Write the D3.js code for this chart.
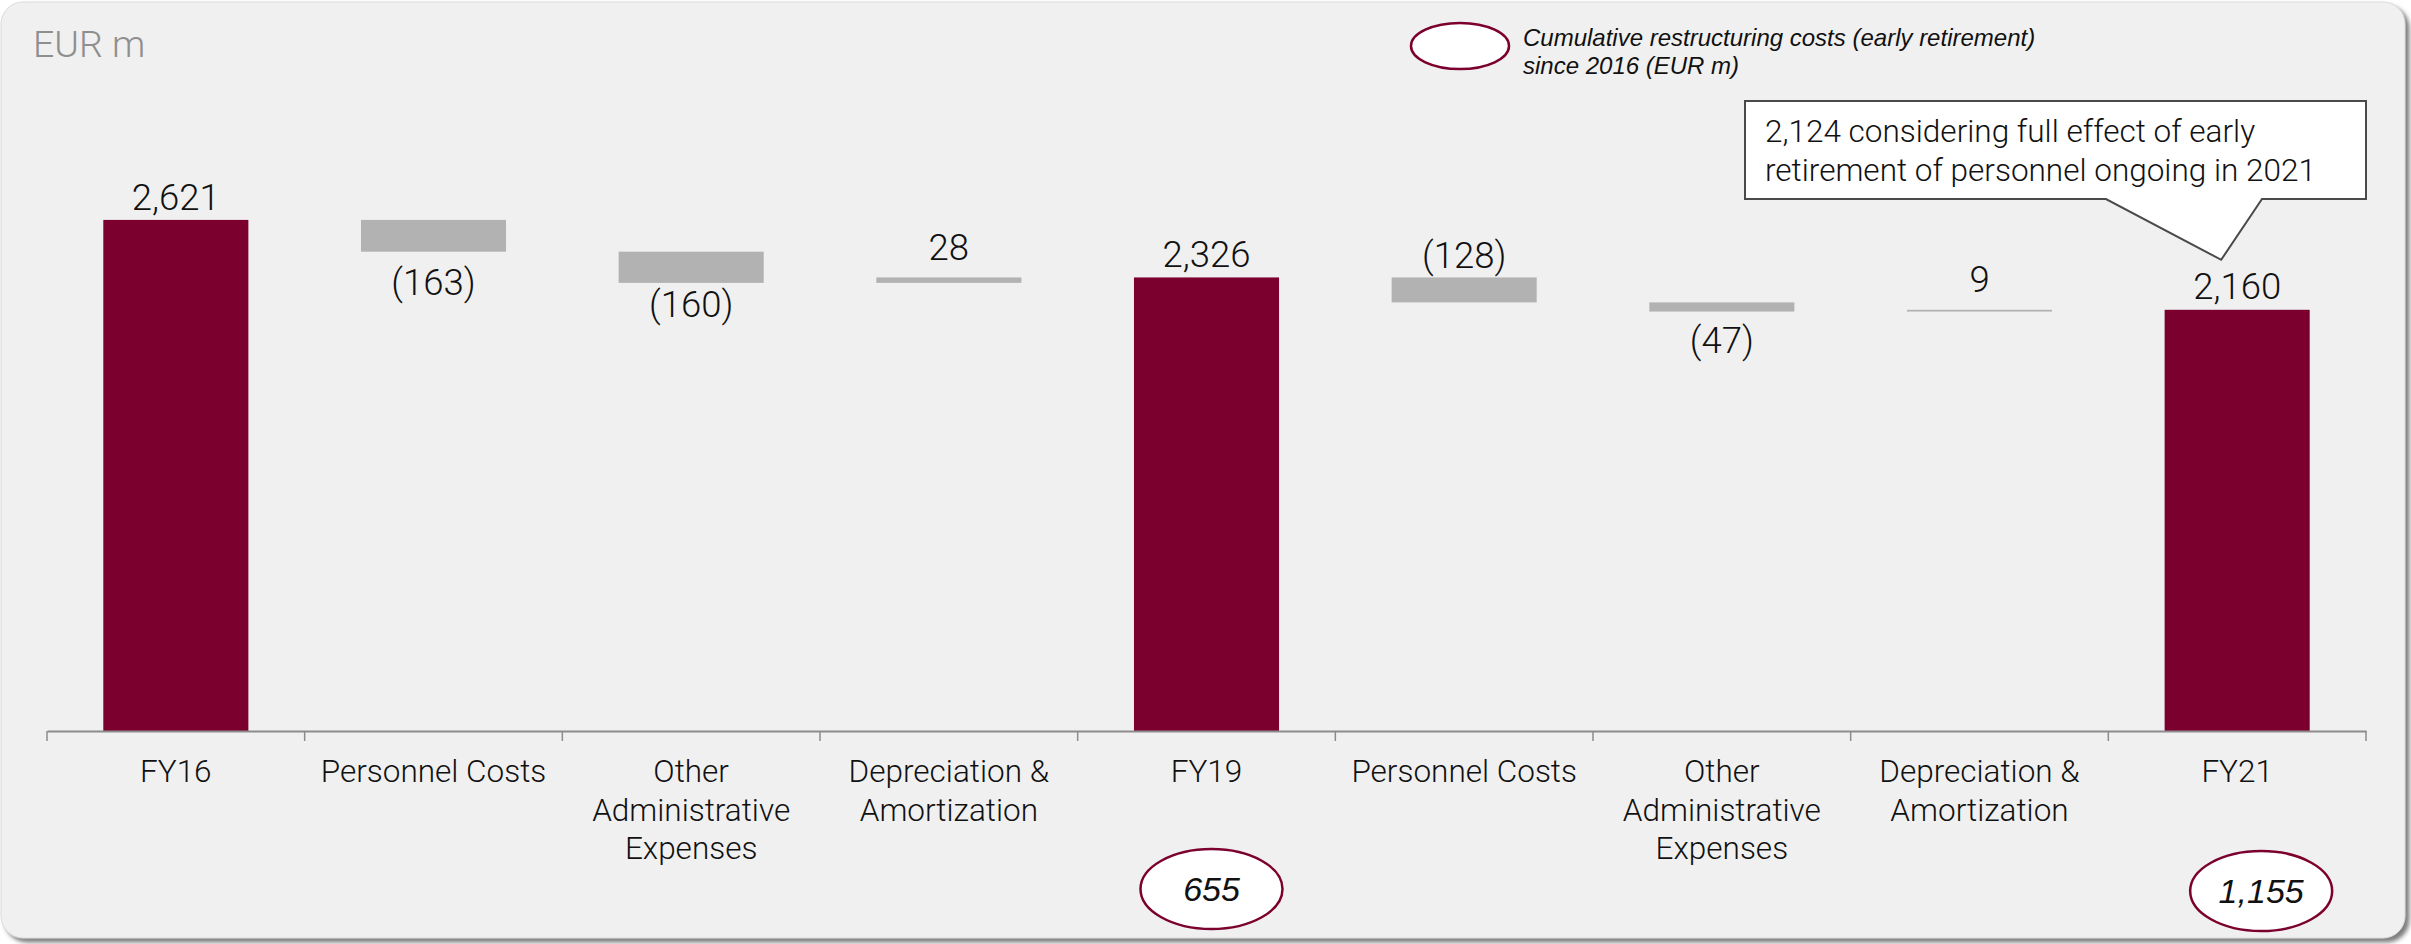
<!DOCTYPE html>
<html>
<head>
<meta charset="utf-8">
<script src="https://cdn.jsdelivr.net/npm/d3@7"></script>
<style>
  html, body { margin: 0; padding: 0; background: #ffffff; }
  svg { display: block; }
  .lbl { font-family: Roboto, "Open Sans", sans-serif; font-weight: 300; fill: #111; }
  .note { font-family: "Liberation Sans", Arial, sans-serif; font-style: italic; fill: #111; }
</style>
</head>
<body>
<div id="chart"></div>
<script>
// waterfall data
var categories = ["FY16", "Personnel Costs", "Other\nAdministrative\nExpenses", "Depreciation &\nAmortization",
  "FY19", "Personnel Costs", "Other\nAdministrative\nExpenses", "Depreciation &\nAmortization", "FY21"];
var values = [2621, -163, -160, 28, 2326, -128, -47, 9, 2160];
var isTotal = [true, false, false, false, true, false, false, false, true];

// cumulative restructuring costs (early retirement) shown in ovals
var restructuringCats = [4, 8];
var restructuringValues = [655, 1155];

var legendLines = ["Cumulative restructuring costs (early retirement)", "since 2016 (EUR m)"];
var calloutLines = ["2,124 considering full effect of early", "retirement of personnel ongoing in 2021"];

var width = 2411;
var height = 944;
var maroon = "#7b002e";
var grey = "#b2b2b2";

// which side of the bar each value label sits on, and its gap
var labelSide = ["above", "below", "below", "above", "above", "above", "below", "above", "above"];
var labelGap = [10, 43, 34, 17, 10, 9, 41, 18, 11];

var svg = d3.select("#chart").append("svg")
  .attr("width", width)
  .attr("height", height);

var defs = svg.append("defs");
var f = defs.append("filter").attr("id", "shadow")
  .attr("x", "-2%").attr("y", "-2%").attr("width", "104%").attr("height", "104%");
f.append("feDropShadow")
  .attr("dx", 4).attr("dy", 4).attr("stdDeviation", 2)
  .attr("flood-color", "#6f6f6f").attr("flood-opacity", 0.9);

// panel
svg.append("rect")
  .attr("x", 1).attr("y", 2)
  .attr("width", 2404).attr("height", 936)
  .attr("rx", 22).attr("ry", 22)
  .attr("fill", "#f0f0f0")
  .attr("stroke", "#dadada")
  .attr("filter", "url(#shadow)");

svg.append("text")
  .attr("class", "lbl")
  .attr("x", 33).attr("y", 57)
  .style("font-size", "37.5px")
  .style("fill", "#8e8e8e")
  .text("EUR m");

var x = d3.scaleBand()
  .domain(d3.range(categories.length))
  .range([47, 2366])
  .paddingInner(0.437)
  .paddingOuter(0.2185);

var y = d3.scaleLinear()
  .domain([0, 3000])
  .range([731, 146]);

// running totals
var rows = [];
var running = 0;
values.forEach(function (v, i) {
  var start, end;
  if (isTotal[i]) {
    start = 0; end = v; running = v;
  } else {
    start = running; end = running + v; running = end;
  }
  rows.push({ i: i, v: v, total: isTotal[i], lo: Math.min(start, end), hi: Math.max(start, end) });
});

var fmt = d3.format(",");

var bars = svg.append("g");
bars.selectAll("rect")
  .data(rows)
  .enter()
  .append("rect")
  .attr("x", d => x(d.i))
  .attr("width", x.bandwidth())
  .attr("y", d => y(d.hi))
  .attr("height", d => Math.max(1.5, y(d.lo) - y(d.hi)))
  .attr("fill", d => d.total ? maroon : grey);

bars.selectAll("text")
  .data(rows)
  .enter()
  .append("text")
  .attr("class", "lbl")
  .attr("x", d => x(d.i) + x.bandwidth() / 2)
  .attr("y", d => labelSide[d.i] == "above" ? y(d.hi) - labelGap[d.i] : y(d.lo) + labelGap[d.i])
  .attr("text-anchor", "middle")
  .style("font-size", "36.5px")
  .text(d => d.v < 0 ? "(" + fmt(-d.v) + ")" : fmt(d.v));

// axis: line + ticks at band boundaries, labels centred
var axisG = svg.append("g").attr("transform", "translate(0," + y(0) + ")");
axisG.call(d3.axisBottom(x).tickSize(0).tickFormat(""))
  .select(".domain")
  .attr("stroke", "#8c8c8c")
  .attr("stroke-width", 2);
var edges = d3.range(categories.length + 1).map(i => x.range()[0] + i * x.step());
axisG.selectAll(".edge")
  .data(edges)
  .enter()
  .append("line")
  .attr("class", "edge")
  .attr("x1", d => d).attr("x2", d => d)
  .attr("y1", 0).attr("y2", 10)
  .attr("stroke", "#8c8c8c")
  .attr("stroke-width", 1.5);

var catText = svg.append("g").selectAll("text")
  .data(categories)
  .enter()
  .append("text")
  .attr("class", "lbl")
  .attr("text-anchor", "middle")
  .style("font-size", "31.5px")
  .attr("x", (d, i) => x(i) + x.bandwidth() / 2)
  .attr("y", 782);
catText.selectAll("tspan")
  .data(d => d.split("\n"))
  .enter()
  .append("tspan")
  .attr("x", function () { return d3.select(this.parentNode).attr("x"); })
  .attr("dy", (d, i) => i == 0 ? 0 : 38.7)
  .text(d => d);

// restructuring ovals under FY19 and FY21
var ovalShift = [5, 24];
var ovals = svg.append("g").selectAll("g")
  .data(restructuringValues)
  .enter()
  .append("g")
  .attr("transform", (d, i) => "translate(" + (x(restructuringCats[i]) + x.bandwidth() / 2 + ovalShift[i]) + "," + (889 + i * 2) + ")");
ovals.append("ellipse")
  .attr("rx", 71).attr("ry", 40)
  .attr("fill", "#ffffff")
  .attr("stroke", maroon)
  .attr("stroke-width", 2.5);
ovals.append("text")
  .attr("class", "note")
  .attr("text-anchor", "middle")
  .attr("dy", 12)
  .style("font-size", "34px")
  .text(d => fmt(d));

// legend
svg.append("ellipse")
  .attr("cx", 1460).attr("cy", 46)
  .attr("rx", 49).attr("ry", 23)
  .attr("fill", "#ffffff")
  .attr("stroke", maroon)
  .attr("stroke-width", 2.5);
svg.append("g").selectAll("text")
  .data(legendLines)
  .enter()
  .append("text")
  .attr("class", "note")
  .attr("x", 1523)
  .attr("y", (d, i) => 46 + i * 28)
  .style("font-size", "24px")
  .text(d => d);

// callout for FY21
var tipX = x(8) + x.bandwidth() / 2 - 16;
var tipY = y(2160) - 50;
svg.append("path")
  .attr("d", "M1745,101 H2366 V199 H2262 L" + tipX + "," + tipY + " L2106,199 H1745 Z")
  .attr("fill", "#ffffff")
  .attr("stroke", "#4a4a4a")
  .attr("stroke-width", 2);
svg.append("g").selectAll("text")
  .data(calloutLines)
  .enter()
  .append("text")
  .attr("class", "lbl")
  .attr("x", 1765)
  .attr("y", (d, i) => 142 + i * 38.5)
  .style("font-size", "31.5px")
  .text(d => d);
</script>
</body>
</html>
